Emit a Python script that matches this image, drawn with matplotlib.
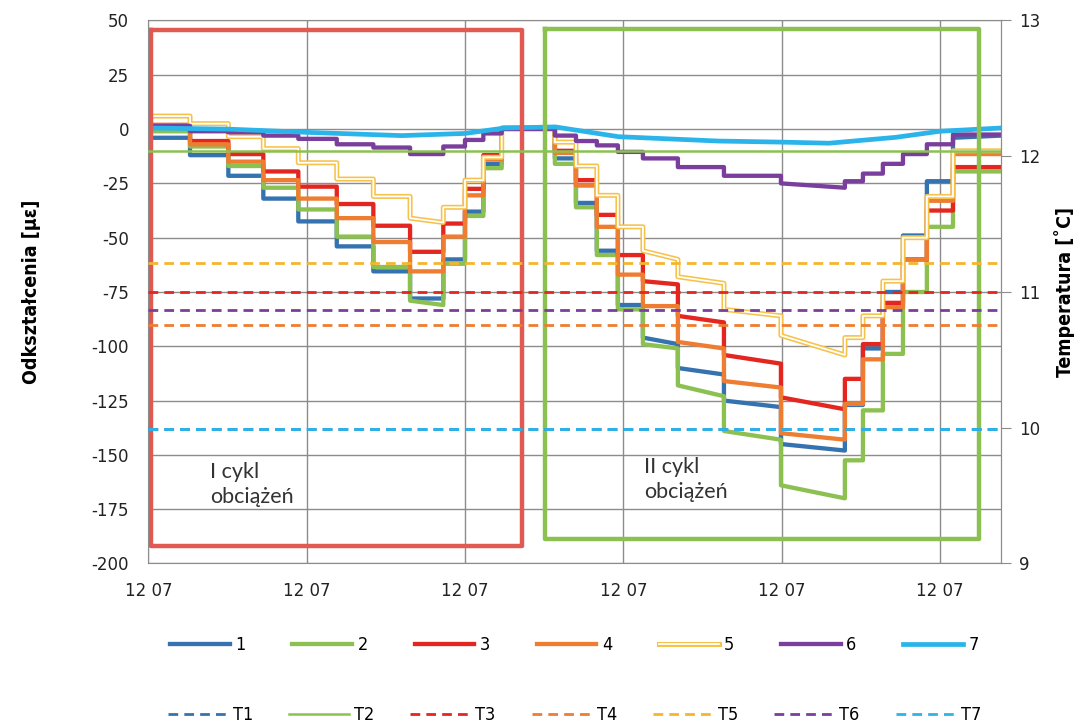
import matplotlib
matplotlib.use("Agg")
import matplotlib.pyplot as plt
import matplotlib.patheffects as pe

plt.rcParams['axes.unicode_minus'] = False

# plateau boundaries (time axis, one unit per tick)
edges = [0.0, 0.263, 0.505, 0.726, 0.947, 1.190, 1.421, 1.653, 1.863, 2.000, 2.116, 2.232,
         2.568, 2.701, 2.833, 2.966, 3.124, 3.345, 3.636, 3.996, 4.400, 4.514, 4.640, 4.767,
         4.918, 5.083, 5.386]

# strain levels on each plateau (single value or (start, end) when creeping)
s1 = [-4, -12, -21.5, -32, -42.5, -54, -65.5, -78, -60, -38, -16, 0.5,
      -13.5, -34, -56, -81, (-96, -99), (-110, -113), (-125, -128), (-145, -148),
      -127, -101, -75, -49, -24, (-4, -3)]
s2 = [-1, -8, -17, -27, -37, -49.5, -63.5, (-79, -81), -62, -40, -18, 0.5,
      -16, -36, -58, -83, (-99, -101), (-118, -123), (-139, -143), (-164, -170),
      -152.5, -129.5, -103.5, -75, -45, -19.5]
s3 = [1.5, -5.5, -11.5, -19.5, -26.5, -34.5, -44.5, -56.5, -43.5, -27.5, -12, 0.5,
      -10, -23.5, -39.5, -58, (-70, -71.5), (-86, -89), (-104, -108), (-123.5, -129),
      -115, -99, -80, -60, -37.5, -17.5]
s4 = [2, -7, -15, -23.5, -32, -41, -52, -65.5, -49.5, -30.5, -14, 0.5,
      -11, -26, -45, -67, -81.5, (-98, -101), (-116, -119), (-140, -143),
      -126.5, -106, -82, -60, -33, -11.5]
s5 = [6, 2.5, -3.5, -9, -15.5, -23, -31, (-41, -43), -36, -23.5, -13, 0.5,
      -6, -17, -30.5, -45, (-56, -60), (-68, -71), (-83, -86), (-95, -104),
      -96, -86, -70, -50, -31, -10]
s6 = [1.5, -1, -1.5, -3, -4.5, -7, -8.5, -11.5, -8, -5, -2, 0,
      -3, -5.5, -7.5, -10.5, -13.5, -17.5, -21.5, (-25, -27),
      -24, -20.5, -16, -11.5, -7, -2.5]
s7_t = [0.0, 0.5, 1.0, 1.6, 2.0, 2.25, 2.57, 2.97, 3.6, 4.0, 4.3, 4.72, 5.0, 5.386]
s7_v = [0.5, 0, -1.5, -3, -2, 0.5, 1, -3.5, -5.5, -6, -6.5, -3.8, -1, 0.5]

# temperatures (right axis)
t_span = [0.0, 5.386]
temps = {'T1': 9.99, 'T2': 12.04, 'T3': 11.0, 'T4': 10.76, 'T5': 11.21, 'T6': 10.87, 'T7': 9.99}

xticks = [0, 1, 2, 3, 4, 5]
xlabels = ['12 07'] * 6

c_blue = '#3572b0'
c_green = '#8cc152'
c_red = '#e3261f'
c_orange = '#ee7d31'
c_yellow = '#f6c24a'
c_purple = '#7a3f9c'
c_cyan = '#2ab4ea'
grid_c = '#8c8c8c'


def steps(levels):
    xs, ys = [], []
    for i, lv in enumerate(levels):
        a, b = lv if isinstance(lv, tuple) else (lv, lv)
        xs += [edges[i], edges[i + 1]]
        ys += [a, b]
    return xs, ys


fig = plt.figure(figsize=(10.88, 7.24), dpi=100)
ax = fig.add_axes([0.1364, 0.2217, 0.7836, 0.75])
ax.set_xlim(0, 5.386)
ax.set_ylim(-200, 50)
ax.set_yticks(range(-200, 51, 25))
ax.set_xticks(xticks)
ax.set_xticklabels(xlabels)
ax.grid(True, color=grid_c, lw=1)
ax.set_axisbelow(True)
ax.tick_params(axis='both', length=0, labelsize=12, colors='#222222')
ax.tick_params(axis='y', pad=14)
ax.tick_params(axis='x', pad=13)
for sp in ax.spines.values():
    sp.set_color(grid_c)
ax.set_ylabel('Odkształcenia [µε]', family='DejaVu Sans', fontstretch='condensed',
              fontweight='bold', fontsize=14, labelpad=36)

h = {}
for name, lv, col in [('1', s1, c_blue), ('2', s2, c_green), ('3', s3, c_red), ('4', s4, c_orange)]:
    x, y = steps(lv)
    h[name], = ax.plot(x, y, color=col, lw=3.1)
x, y = steps(s5)
h['5'], = ax.plot(x, y, color='white', lw=1.3,
                  path_effects=[pe.Stroke(linewidth=3.6, foreground=c_yellow), pe.Normal()])
x, y = steps(s6)
h['6'], = ax.plot(x, y, color=c_purple, lw=3.1)
h['7'], = ax.plot(s7_t, s7_v, color=c_cyan, lw=3.4)

# load cycle frames
ax.plot([0.015, 2.358, 2.358, 0.015, 0.015], [45.4, 45.4, -191.9, -191.9, 45.4],
        color='#e05a52', lw=3.2)
ax.plot([2.507, 5.25, 5.25, 2.507, 2.507], [46.3, 46.3, -188.8, -188.8, 46.3],
        color=c_green, lw=3.2)
ax.text(0.389, -163.6, 'I cykl\nobciążeń', family=['Lato', 'DejaVu Sans'], fontsize=15.5,
        va='center', ha='left', linespacing=1.3, color='#333333')
ax.text(3.13, -161.3, 'II cykl\nobciążeń', family=['Lato', 'DejaVu Sans'], fontsize=15.5,
        va='center', ha='left', linespacing=1.3, color='#333333')

ax2 = ax.twinx()
ax2.set_ylim(9, 13)
ax2.set_yticks([9, 10, 11, 12, 13])
ax2.tick_params(axis='y', length=7, color=grid_c, pad=6, labelsize=12, labelcolor='#222222')
for k, sp in ax2.spines.items():
    sp.set_visible(k == 'right')
    sp.set_color(grid_c)
ax2.set_ylabel('Temperatura [˚C]', family='DejaVu Sans', fontstretch='condensed',
               fontweight='bold', fontsize=14, labelpad=10)

t_col = {'T1': c_blue, 'T2': c_green, 'T3': c_red, 'T4': c_orange,
         'T5': '#f5b52e', 'T6': c_purple, 'T7': c_cyan}
th = {}
for name in ['T1', 'T2', 'T3', 'T4', 'T5', 'T6', 'T7']:
    v = temps[name]
    if name == 'T2':
        th[name], = ax2.plot(t_span, [v, v], color=t_col[name], lw=1.8)
    else:
        th[name], = ax2.plot(t_span, [v, v], color=t_col[name], lw=2.0, dashes=(3.5, 2.2))

leg_font = {'family': 'DejaVu Sans', 'stretch': 'condensed', 'size': 13}
names1 = ['1', '2', '3', '4', '5', '6', '7']
fig.legend([h[n] for n in names1], names1, ncol=7, loc='center', bbox_to_anchor=(0.528, 0.109),
           frameon=False, handlelength=3.3, handletextpad=0.3, columnspacing=2.6, prop=leg_font)
names2 = ['T1', 'T2', 'T3', 'T4', 'T5', 'T6', 'T7']
fig.legend([th[n] for n in names2], names2, ncol=7, loc='center', bbox_to_anchor=(0.528, 0.012),
           frameon=False, handlelength=3.3, handletextpad=0.3, columnspacing=2.0, prop=leg_font)

fig.savefig('out.png', dpi=100)
